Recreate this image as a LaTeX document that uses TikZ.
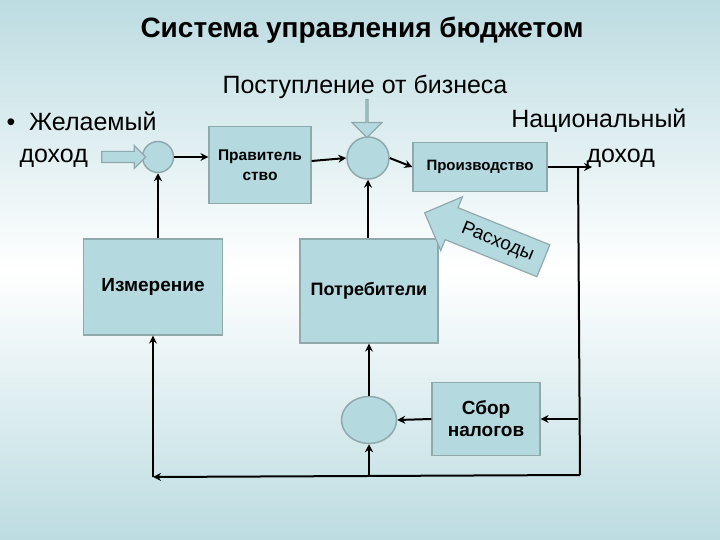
\documentclass[tikz,border=0pt]{standalone}
\usepackage{fontspec}
\setmainfont{Liberation Sans}
\usepackage{tikz}
\usetikzlibrary{arrows.meta,shapes.arrows,shapes.geometric}
\definecolor{paleteal}{HTML}{BCDCE1}
\definecolor{boxteal}{HTML}{B4DAE0}
\definecolor{rimgray}{HTML}{8FA9AD}

\tikzset{
  blk/.style={draw=rimgray,fill=boxteal,line width=1.2pt,align=center,font=\bfseries\fontsize{18}{21}\selectfont},
  sumc/.style={circle,draw=rimgray,fill=boxteal,line width=1.5pt,minimum size=31pt,inner sep=0pt},
  link/.style={line width=2pt,-{Stealth[length=8pt,width=8pt]}},
  plain/.style={line width=2pt},
  fatarrow/.style={single arrow,draw=rimgray,fill=boxteal,line width=1.2pt,inner sep=0pt},
}

\begin{document}
\begin{tikzpicture}[x=1pt,y=-1pt]
  \useasboundingbox (0,0) rectangle (720,540);
  \shade[top color=paleteal,bottom color=paleteal,middle color=white] (0,0) rectangle (720,540);

  % headings
  \node[font=\bfseries\fontsize{28}{31}\selectfont] (title) at (362,30) {Система управления бюджетом};
  \node[font=\fontsize{25}{28}\selectfont] (biz) at (365,87) {Поступление от бизнеса};
  \node[anchor=west,font=\fontsize{25}{28}\selectfont] (want1) at (3,121) {\textbullet\ \ Желаемый};
  \node[anchor=west,font=\fontsize{25}{28}\selectfont] (want2) at (16,158) {доход};
  \node[anchor=east,font=\fontsize{25}{28}\selectfont] (nat1) at (690,121) {Национальный};
  \node[anchor=west,font=\fontsize{25}{28}\selectfont] (nat2) at (583,158) {доход};

  % summing points
  \node[sumc] (s1) at (158,157) {};
  \node[sumc,minimum size=42pt] (s2) at (368,158) {};
  \node[sumc,ellipse,minimum width=55pt,minimum height=47pt] (s3) at (369,420) {};

  % blocks
  \node[blk,font=\bfseries\fontsize{15.5}{20}\selectfont,minimum width=102pt,minimum height=77pt] (gov) at (260,165) {Правитель\\ство};
  \node[blk,font=\bfseries\fontsize{15}{17}\selectfont,minimum width=134pt,minimum height=49pt] (prod) at (480,167) {Производство};
  \node[blk,font=\bfseries\fontsize{19}{22}\selectfont,minimum width=139pt,minimum height=96pt] (meas) at (153,287) {Измерение};
  \node[blk,minimum width=138pt,minimum height=104pt] (cons) at (369,291) {Потребители};
  \node[blk,font=\bfseries\fontsize{19}{22}\selectfont,minimum width=108pt,minimum height=73pt] (tax) at (486,419) {Сбор\\налогов};

  % hollow arrows
  \node[fatarrow,minimum height=44pt,minimum width=22pt,single arrow head extend=6pt,inner ysep=5pt] (inw) at (121,157) {};
  \node[fatarrow,shape border rotate=270,minimum height=38pt,minimum width=30pt,single arrow head extend=8pt,inner ysep=7pt] (inb) at (367,118) {};
  \node[fatarrow,shape border rotate=180,rotate=-22,minimum height=128pt,minimum width=58pt,single arrow head extend=11pt,inner xsep=2pt,inner ysep=7pt,font=\fontsize{19}{21}\selectfont] (spend) at (492,240) {\hspace*{12pt}Расходы};

  % connectors
  \coordinate (natout) at (592,167);
  \coordinate (br) at (578,167);
  \coordinate (rb) at (580,475);
  \coordinate (lb) at (153,477);
  \draw[link] (s1.east) -- (s1.east -| gov.west);
  \draw[link] (gov.east |- 0,161) -- (s2.west);
  \draw[link] (s2.east) -- (prod.west);
  \draw[link] (prod.east) -- (natout);
  \draw[plain] (br) -- (rb);
  \draw[link] (rb) -- (lb);
  \draw[link] (lb) -- (meas.south);
  \draw[link] (s1 |- meas.north) -- (s1.south);
  \draw[link] (s2 |- cons.north) -- (s2.south);
  \draw[link] (s3.north) -- (s3 |- cons.south);
  \draw[link] (s3 |- rb) -- (s3.south);
  \draw[link] (tax.west) -- (s3.east);
  \draw[link] (br |- tax) -- (tax.east);
\end{tikzpicture}
\end{document}
